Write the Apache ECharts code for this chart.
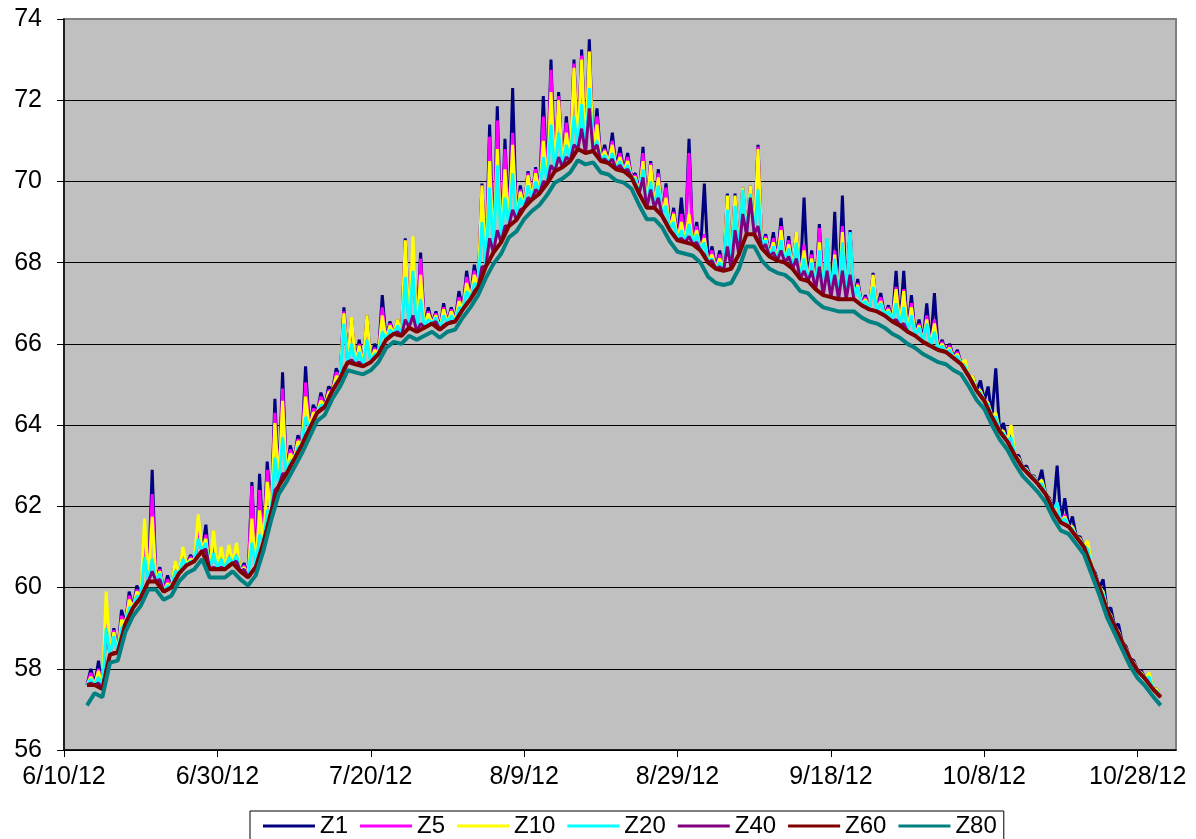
<!DOCTYPE html>
<html>
<head>
<meta charset="utf-8">
<script src="https://cdn.jsdelivr.net/npm/echarts@6/dist/echarts.min.js"></script>
<style>
  html, body { margin: 0; padding: 0; background: #ffffff; }
  #chart { width: 1196px; height: 839px; }
</style>
</head>
<body>
<div id="chart"></div>
<script>
// Day numbers count from 6/10/12 (day 0). Data starts on day 3 (6/13/12).
const firstDay = 3;
const seriesNames = ['Z1', 'Z5', 'Z10', 'Z20', 'Z40', 'Z60', 'Z80'];
const seriesColors = ['#000080', '#FF00FF', '#FFFF00', '#00FFFF', '#800080', '#800000', '#008080'];
const xTickDays = [0, 20, 40, 60, 80, 100, 120, 140];
const xTickLabels = ['6/10/12', '6/30/12', '7/20/12', '8/9/12', '8/29/12', '9/18/12', '10/8/12', '10/28/12'];
const yTicks = [56, 58, 60, 62, 64, 66, 68, 70, 72, 74];

// Night-time (mixed) temperature, Z60, one value per day (day 3 .. day 143)
const base60 = [
  57.6, 57.6, 57.5, 58.35, 58.4, 59.1, 59.5, 59.75, 60.15, 60.15,
  59.9, 60.0, 60.35, 60.55, 60.65, 60.9, 60.45, 60.45, 60.45, 60.6,
  60.4, 60.25, 60.5, 61.1, 61.85, 62.5, 62.8, 63.15, 63.5, 63.9,
  64.3, 64.45, 64.85, 65.15, 65.55, 65.5, 65.45, 65.55, 65.75, 66.1,
  66.25, 66.2, 66.4, 66.3, 66.4, 66.5, 66.35, 66.5, 66.55, 66.85,
  67.1, 67.4, 67.9, 68.25, 68.5, 68.9, 69.05, 69.35, 69.55, 69.7,
  69.95, 70.25, 70.35, 70.5, 70.8, 70.7, 70.75, 70.5, 70.45, 70.3,
  70.25, 70.1, 69.7, 69.35, 69.35, 69.15, 68.8, 68.55, 68.5, 68.45,
  68.3, 68.0, 67.85, 67.8, 67.85, 68.2, 68.7, 68.7, 68.35, 68.15,
  68.05, 68.0, 67.85, 67.6, 67.55, 67.35, 67.2, 67.15, 67.1, 67.1,
  67.1, 66.95, 66.85, 66.8, 66.7, 66.55, 66.45, 66.3, 66.2, 66.05,
  65.95, 65.85, 65.8, 65.65, 65.5, 65.2, 64.85, 64.6, 64.2, 63.85,
  63.6, 63.25, 62.95, 62.75, 62.55, 62.3, 61.9, 61.6, 61.5, 61.25,
  61.0, 60.5, 60.0, 59.45, 59.05, 58.65, 58.25, 57.95, 57.75, 57.5,
  57.3
];
// Z80, one value per day (day 3 .. day 143)
const base80 = [
  57.1, 57.4, 57.3, 58.15, 58.2, 58.9, 59.3, 59.55, 59.95, 59.95,
  59.7, 59.8, 60.15, 60.35, 60.45, 60.7, 60.25, 60.25, 60.25, 60.4,
  60.2, 60.05, 60.3, 60.9, 61.65, 62.3, 62.6, 62.95, 63.3, 63.7,
  64.1, 64.25, 64.65, 64.95, 65.35, 65.3, 65.25, 65.35, 65.55, 65.9,
  66.05, 66.0, 66.2, 66.1, 66.2, 66.3, 66.15, 66.3, 66.35, 66.65,
  66.9, 67.2, 67.62, 67.97, 68.22, 68.62, 68.77, 69.07, 69.27, 69.42,
  69.67, 69.97, 70.07, 70.22, 70.52, 70.42, 70.47, 70.22, 70.17, 70.02,
  69.97, 69.82, 69.42, 69.07, 69.07, 68.87, 68.52, 68.27, 68.22, 68.17,
  68.0, 67.65, 67.5, 67.45, 67.5, 67.85, 68.4, 68.4, 68.05, 67.85,
  67.75, 67.7, 67.55, 67.3, 67.25, 67.05, 66.9, 66.85, 66.8, 66.8,
  66.8, 66.65, 66.55, 66.5, 66.4, 66.25, 66.15, 66.0, 65.9, 65.75,
  65.65, 65.55, 65.5, 65.35, 65.25, 64.95, 64.62, 64.4, 64.0, 63.65,
  63.4, 63.05, 62.75, 62.55, 62.35, 62.1, 61.7, 61.4, 61.32, 61.07,
  60.82, 60.32, 59.82, 59.27, 58.87, 58.47, 58.07, 57.77, 57.57, 57.32,
  57.1
];
// Mid-day value per day (day 3 .. day 142), placed half a day after each night value
const peakZ1 = [
  58.0, 58.2, 59.1, 59.0, 59.45, 59.9, 60.05, 61.1, 62.9, 60.5,
  60.3, 60.6, 60.9, 60.8, 61.3, 61.55, 61.0, 60.9, 60.95, 61.0,
  60.6, 62.6, 62.8, 63.1, 64.65, 65.3, 63.5, 63.75, 65.45, 64.5,
  64.8, 64.95, 65.4, 66.9, 66.6, 66.1, 66.7, 66.0, 67.2, 66.55,
  66.6, 68.6, 68.3, 68.25, 66.9, 66.8, 67.0, 66.9, 67.3, 67.8,
  67.95, 69.95, 71.4, 71.85, 71.05, 72.3, 69.9, 70.25, 70.35, 72.1,
  73.0, 72.2, 71.6, 73.0, 73.25, 73.5, 71.8, 70.9, 71.2, 70.85,
  70.7, 70.2, 70.85, 70.5, 70.3, 69.95, 69.35, 69.6, 71.05, 69.0,
  69.95, 68.4, 68.3, 69.7, 69.7, 69.85, 69.9, 70.9, 68.7, 68.75,
  69.1, 68.65, 68.75, 69.6, 68.3, 68.95, 68.6, 69.25, 69.65, 68.8,
  67.6, 67.2, 67.75, 67.25, 66.95, 67.8, 67.8, 67.2, 66.6, 67.0,
  67.25, 66.1, 66.0, 65.85, 65.55, 65.2, 65.1, 64.95, 65.4, 64.05,
  63.75, 63.25, 63.0, 62.75, 62.9, 62.2, 63.0, 62.2, 61.75, 61.25,
  60.95, 60.35, 60.2, 59.5, 59.1, 58.55, 58.2, 57.95, 57.8, 57.5
];
const peakZ5 = [
  57.9, 58.0, 59.15, 58.95, 59.3, 59.8, 59.95, 61.2, 62.3, 60.45,
  60.2, 60.55, 60.85, 60.75, 61.4, 61.3, 61.05, 60.85, 60.9, 60.95,
  60.55, 62.5, 62.4, 62.9, 64.3, 64.9, 63.4, 63.65, 65.05, 64.4,
  64.7, 64.85, 65.3, 66.8, 66.6, 66.0, 66.6, 65.9, 66.9, 66.5,
  66.55, 68.55, 68.35, 68.1, 66.8, 66.75, 66.9, 66.85, 67.15, 67.65,
  67.8, 69.9, 71.1, 71.5, 70.8, 71.2, 69.8, 70.2, 70.3, 71.6,
  72.75, 72.1, 71.45, 72.9, 73.1, 73.2, 71.6, 70.8, 71.0, 70.7,
  70.6, 70.15, 70.7, 70.45, 70.2, 69.85, 69.25, 69.2, 70.7, 68.9,
  68.7, 68.3, 68.2, 69.6, 69.6, 69.8, 69.85, 70.85, 68.65, 68.6,
  68.9, 68.55, 68.7, 68.45, 68.2, 68.85, 68.55, 68.3, 68.9, 68.75,
  67.5, 67.15, 67.7, 67.15, 66.9, 67.4, 67.35, 67.0, 66.5, 66.7,
  66.6, 66.05, 65.95, 65.8, 65.45, 65.1, 64.85, 64.55, 64.2, 63.85,
  63.6, 63.18, 62.92, 62.72, 62.55, 62.16, 62.1, 61.8, 61.5, 61.2,
  60.9, 60.3, 59.85, 59.32, 58.92, 58.5, 58.15, 57.9, 57.75, 57.46
];
const peakZ10 = [
  57.8, 57.95, 59.9, 58.9, 59.2, 59.7, 59.9, 61.7, 61.75, 60.4,
  60.1, 60.65, 61.0, 60.7, 61.8, 61.2, 61.4, 61.0, 61.05, 61.1,
  60.5, 61.7, 61.9, 62.6, 64.05, 64.6, 63.3, 63.6, 64.7, 64.3,
  64.6, 64.8, 65.2, 66.75, 66.65, 65.95, 66.7, 65.85, 66.7, 66.45,
  66.6, 68.55, 68.65, 67.7, 66.75, 66.7, 66.85, 66.8, 67.05, 67.5,
  67.7, 69.9, 70.5, 70.8, 70.3, 70.9, 69.75, 70.15, 70.2, 71.0,
  72.2, 72.0, 71.2, 72.8, 73.0, 73.2, 71.4, 70.75, 70.9, 70.6,
  70.5, 70.1, 70.5, 70.4, 70.1, 69.6, 69.2, 69.0, 69.2, 68.8,
  68.6, 68.2, 68.1, 69.65, 69.65, 69.85, 69.9, 70.8, 68.6, 68.5,
  68.8, 68.45, 68.75, 68.3, 68.1, 68.5, 68.6, 68.2, 68.75, 68.7,
  67.45, 67.1, 67.7, 67.05, 66.85, 67.35, 67.3, 66.9, 66.45, 66.6,
  66.5, 66.0, 65.9, 65.75, 65.6, 65.2, 64.85, 64.55, 64.3, 63.85,
  64.0, 63.18, 62.92, 62.72, 62.65, 62.16, 62.05, 61.75, 61.5, 61.2,
  61.15, 60.3, 59.9, 59.32, 58.92, 58.5, 58.15, 57.9, 57.9, 57.5
];
const peakZ20 = [
  57.75, 57.8, 59.0, 58.8, 59.0, 59.5, 59.8, 60.75, 60.7, 60.35,
  60.05, 60.4, 60.7, 60.65, 61.2, 61.1, 60.85, 60.7, 60.75, 60.8,
  60.45, 61.1, 61.3, 61.9, 63.2, 63.7, 63.1, 63.45, 64.2, 64.1,
  64.5, 64.7, 65.05, 66.5, 66.0, 65.8, 66.1, 65.75, 66.3, 66.35,
  66.45, 67.65, 67.8, 67.1, 66.6, 66.65, 66.7, 66.7, 66.9, 67.3,
  67.5, 69.0, 69.85, 70.4, 69.6, 70.2, 69.6, 69.9, 70.0, 70.6,
  71.4, 71.2, 70.9, 71.6, 71.9, 72.3, 71.0, 70.65, 70.7, 70.5,
  70.4, 70.05, 70.3, 70.0, 69.9, 69.4, 69.0, 68.8, 68.95, 68.7,
  68.5, 68.1, 68.0, 69.3, 69.4, 69.8, 69.7, 69.8, 68.55, 68.4,
  68.55, 68.35, 68.5, 68.1, 68.0, 68.3, 68.6, 68.1, 68.5, 68.75,
  67.4, 67.05, 67.4, 67.0, 66.8, 67.0, 66.9, 66.7, 66.4, 66.5,
  66.3, 65.95, 65.85, 65.7, 65.45, 65.08, 64.8, 64.5, 64.2, 63.8,
  63.7, 63.15, 62.9, 62.7, 62.55, 62.14, 62.1, 61.7, 61.45, 61.17,
  60.95, 60.28, 59.85, 59.3, 58.9, 58.48, 58.13, 57.88, 57.8, 57.45
];
const peakZ40 = [
  57.65, 57.65, 58.0, 58.4, 58.75, 59.3, 59.65, 59.95, 60.4, 60.2,
  59.95, 60.2, 60.45, 60.6, 60.8, 60.95, 60.5, 60.5, 60.55, 60.65,
  60.45, 60.4, 60.8, 61.5, 62.4, 62.8, 63.0, 63.35, 63.75, 64.1,
  64.4, 64.65, 65.0, 65.4, 65.6, 65.55, 65.5, 65.65, 65.95, 66.2,
  66.3, 66.6, 66.7, 66.5, 66.45, 66.55, 66.45, 66.55, 66.7, 67.0,
  67.3, 67.9, 68.6, 68.8, 68.9, 69.3, 69.3, 69.6, 69.8, 70.0,
  70.4, 70.6, 70.6, 70.9, 71.3, 71.8, 70.9, 70.55, 70.55, 70.4,
  70.3, 69.9, 70.1, 69.8, 69.6, 69.0, 68.7, 68.6, 68.65, 68.5,
  68.2, 68.05, 67.9, 68.4, 68.8, 69.2, 69.6, 68.9, 68.45, 68.25,
  68.3, 68.15, 68.1, 67.8, 67.8, 67.9, 67.8, 67.7, 67.8, 67.7,
  67.03, 66.9, 66.83, 66.75, 66.63, 66.6, 66.5, 66.25, 66.13, 66.0,
  65.9, 65.83, 65.73, 65.58, 65.35, 65.03, 64.73, 64.4, 64.03, 63.73,
  63.43, 63.1, 62.85, 62.65, 62.43, 62.1, 61.75, 61.55, 61.38, 61.13,
  60.75, 60.25, 59.73, 59.25, 58.85, 58.45, 58.1, 57.85, 57.63, 57.4
];

// Shallow depths: night value, then the mid-day value half a day later.
function diurnal(peaks) {
  const out = [];
  for (let i = 0; i < base60.length; i++) {
    const d = firstDay + i;
    out.push([d, base60[i]]);
    if (i < peaks.length) out.push([d + 0.5, peaks[i]]);
  }
  return out;
}
function daily(vals) {
  return vals.map((v, i) => [firstDay + i, v]);
}

const seriesData = [
  diurnal(peakZ1), diurnal(peakZ5), diurnal(peakZ10), diurnal(peakZ20), diurnal(peakZ40),
  daily(base60), daily(base80)
];
const seriesWidths = [3, 3, 3, 3, 3, 4, 4];

const chart = echarts.init(document.getElementById('chart'), null, { renderer: 'canvas' });
const font = 'Arial, "Liberation Sans", sans-serif';

chart.setOption({
  animation: false,
  backgroundColor: '#ffffff',
  grid: {
    left: 64, right: 20, top: 19, bottom: 89,
    show: true, backgroundColor: '#C0C0C0', borderColor: '#808080', borderWidth: 2
  },
  xAxis: {
    type: 'value', min: 0, max: 145, interval: 20,
    axisLine: { show: true, onZero: false, lineStyle: { color: '#000', width: 1.5 } },
    axisTick: { show: true, length: 7, lineStyle: { color: '#000' }, customValues: xTickDays },
    axisLabel: {
      color: '#000', fontSize: 25, fontFamily: font, margin: 15,
      customValues: xTickDays,
      formatter: v => xTickLabels[xTickDays.indexOf(v)] || ''
    },
    splitLine: { show: false }
  },
  yAxis: {
    type: 'value', min: 56, max: 74, interval: 2,
    axisLine: { show: true, lineStyle: { color: '#000', width: 1.5 } },
    axisTick: { show: true, length: 7, lineStyle: { color: '#000' } },
    axisLabel: {
      color: '#000', fontSize: 25, fontFamily: font, margin: 22,
      formatter: v => (yTicks.indexOf(v) >= 0 ? String(v) : '')
    },
    splitLine: { show: true, showMaxLine: false, lineStyle: { color: '#000', width: 1 } }
  },
  legend: {
    show: true,
    left: 250, top: 811,
    orient: 'horizontal',
    data: seriesNames,
    icon: 'rect',
    itemWidth: 52, itemHeight: 3, itemGap: 12,
    padding: [3, 7, 12, 13],
    borderColor: '#000', borderWidth: 1, backgroundColor: '#fff',
    textStyle: { color: '#000', fontSize: 24, fontFamily: font }
  },
  series: seriesNames.map((name, k) => ({
    name: name,
    type: 'line',
    data: seriesData[k],
    symbol: 'none',
    smooth: false,
    color: seriesColors[k],
    lineStyle: { color: seriesColors[k], width: seriesWidths[k] },
    emphasis: { disabled: true }
  }))
});
</script>
</body>
</html>
